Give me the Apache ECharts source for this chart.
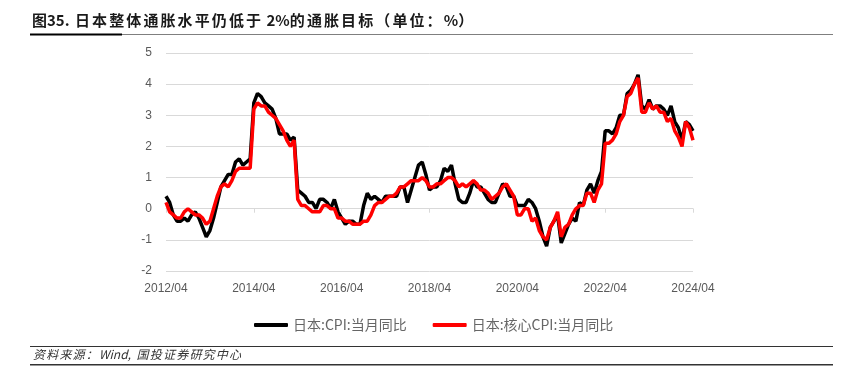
<!DOCTYPE html>
<html>
<head>
<meta charset="utf-8">
<script src="https://cdn.jsdelivr.net/npm/echarts@6/dist/echarts.min.js"></script>
<style>
html,body{margin:0;padding:0;background:#fff;}
#c{width:849px;height:385px;}
</style>
</head>
<body>
<div id="c"></div>
<script>
// Categories: monthly from 2012/04 to 2024/04
var months = [];
for (var y = 2012; y <= 2024; y++) {
  for (var m = 1; m <= 12; m++) {
    if (y === 2012 && m < 4) continue;
    if (y === 2024 && m > 4) continue;
    months.push(y + '/' + (m < 10 ? '0' + m : m));
  }
}
var seriesNames = ['日本:CPI:当月同比', '日本:核心CPI:当月同比'];
var yTicks = [-2, -1, 0, 1, 2, 3, 4, 5];
var titleText = '图35. 日本整体通胀水平仍低于 2%的通胀目标（单位：%）';
var sourceText = '资料来源：Wind, 国投证券研究中心';

// 日本:CPI:当月同比 (%)
var cpi = [
  0.4, 0.2, -0.2, -0.4, -0.4, -0.3, -0.4, -0.2, -0.1,
  -0.3, -0.6, -0.9, -0.7, -0.3, 0.2, 0.7, 0.9, 1.1, 1.1, 1.5, 1.6,
  1.4, 1.5, 1.6, 3.4, 3.7, 3.6, 3.4, 3.3, 3.2, 2.9, 2.4, 2.4,
  2.4, 2.2, 2.3, 0.6, 0.5, 0.4, 0.2, 0.2, 0.0, 0.3, 0.3, 0.2,
  0.0, 0.3, -0.1, -0.3, -0.5, -0.4, -0.4, -0.5, -0.5, 0.1, 0.5, 0.3,
  0.4, 0.3, 0.2, 0.4, 0.4, 0.4, 0.4, 0.7, 0.7, 0.2, 0.6, 1.0,
  1.4, 1.5, 1.1, 0.6, 0.7, 0.7, 0.9, 1.3, 1.2, 1.4, 0.8, 0.3,
  0.2, 0.2, 0.5, 0.9, 0.7, 0.7, 0.5, 0.3, 0.2, 0.2, 0.5, 0.8,
  0.7, 0.4, 0.4, 0.1, 0.1, 0.1, 0.3, 0.2, 0.0, -0.4, -0.9, -1.2,
  -0.6, -0.4, -0.2, -1.1, -0.8, -0.5, -0.3, -0.4, 0.2, 0.1, 0.6, 0.8,
  0.5, 0.9, 1.2, 2.5, 2.5, 2.4, 2.6, 3.0, 3.0, 3.7, 3.8, 4.0,
  4.3, 3.3, 3.2, 3.5, 3.2, 3.3, 3.3, 3.2, 3.0, 3.3, 2.8, 2.6,
  2.2, 2.8, 2.7, 2.5
];

// 日本:核心CPI:当月同比 (%)
var core = [
  0.2, -0.1, -0.2, -0.3, -0.3, -0.1, 0.0, -0.1, -0.2,
  -0.2, -0.3, -0.5, -0.4, 0.0, 0.4, 0.7, 0.8, 0.7, 0.9, 1.2, 1.3,
  1.3, 1.3, 1.3, 3.2, 3.4, 3.3, 3.3, 3.1, 3.0, 2.9, 2.7, 2.5,
  2.2, 2.0, 2.2, 0.3, 0.1, 0.1, 0.0, -0.1, -0.1, -0.1, 0.1, 0.1,
  0.0, 0.0, -0.3, -0.3, -0.4, -0.4, -0.5, -0.5, -0.5, -0.4, -0.4, -0.2,
  0.1, 0.2, 0.2, 0.3, 0.4, 0.4, 0.5, 0.7, 0.7, 0.8, 0.9, 0.9,
  0.9, 1.0, 0.9, 0.7, 0.7, 0.8, 0.8, 0.9, 1.0, 1.0, 0.9, 0.7,
  0.8, 0.7, 0.8, 0.9, 0.8, 0.6, 0.6, 0.5, 0.3, 0.4, 0.5, 0.7,
  0.8, 0.6, 0.4, -0.2, -0.2, 0.0, 0.0, -0.4, -0.3, -0.7, -0.9, -1.0,
  -0.6, -0.4, -0.1, -0.9, -0.6, -0.5, -0.2, 0.0, 0.1, 0.1, 0.5, 0.5,
  0.2, 0.6, 0.8, 2.1, 2.1, 2.2, 2.4, 2.8, 3.0, 3.6, 3.7, 4.0,
  4.2, 3.1, 3.1, 3.4, 3.2, 3.3, 3.1, 3.1, 2.8, 2.9, 2.5, 2.3,
  2.0, 2.8, 2.6, 2.2
];

var font = '"Noto Sans CJK SC", "Noto Sans", sans-serif';
var measureCtx = document.createElement('canvas').getContext('2d');

// Letter-spaced text: CJK chars placed one by one, ASCII runs kept whole
function spacedText(str, x0, yTop, fontStr, color, cjkStep, asciiGap) {
  var els = [];
  var x = x0;
  measureCtx.font = fontStr;
  var i = 0;
  while (i < str.length) {
    var ch = str[i];
    if (ch.charCodeAt(0) < 128) {
      var run = '';
      while (i < str.length && str.charCodeAt(i) < 128) { run += str[i]; i++; }
      els.push({type: 'text', left: x, top: yTop, style: {text: run, font: fontStr, fill: color}});
      x += measureCtx.measureText(run).width + asciiGap;
    } else {
      els.push({type: 'text', left: x, top: yTop, style: {text: ch, font: fontStr, fill: color}});
      x += cjkStep;
      i++;
    }
  }
  return els;
}

var titleFont = 'bold 15px "Noto Sans CJK SC", sans-serif';
var graphics = [];
graphics.push({type: 'text', left: 32, top: 13, style: {text: '图35.', font: titleFont, fill: '#1a1a1a'}});
graphics = graphics.concat(spacedText(titleText.slice(5), 75, 13, titleFont, '#1a1a1a', 17.1, 0));
graphics.push({type: 'rect', shape: {x: 30, y: 34, width: 803, height: 1}, style: {fill: '#7f7f7f'}});
graphics.push({type: 'rect', shape: {x: 30, y: 33.5, width: 92, height: 2}, style: {fill: '#000'}});
graphics.push({type: 'rect', shape: {x: 30, y: 346, width: 803, height: 1}, style: {fill: '#333'}});
graphics.push({type: 'rect', shape: {x: 30, y: 364, width: 803, height: 1.5}, style: {fill: '#333'}});
graphics = graphics.concat(spacedText(sourceText, 33, 348, 'italic 12px "Noto Sans CJK SC", sans-serif', '#333', 13.2, 3));

var chart = echarts.init(document.getElementById('c'), null, {renderer: 'canvas'});
chart.setOption({
  animation: false,
  backgroundColor: '#fff',
  textStyle: {fontFamily: font},
  grid: {left: 166, right: 156, top: 53, bottom: 114, containLabel: false},
  legend: {
    data: seriesNames,
    left: 249,
    top: 313,
    itemWidth: 34,
    itemHeight: 4,
    itemGap: 26,
    icon: 'roundRect',
    textStyle: {color: '#666666', fontSize: 14, fontFamily: font}
  },
  xAxis: [{
    type: 'category',
    data: months,
    boundaryGap: false,
    axisLine: {show: false, onZero: false},
    axisTick: {show: false},
    axisLabel: {interval: 23, color: '#595959', fontSize: 12, margin: 12, fontFamily: 'Liberation Sans, Arial, sans-serif'},
    splitLine: {show: false}
  }, {
    type: 'category',
    data: months,
    position: 'bottom',
    boundaryGap: false,
    axisLine: {show: true, onZero: true, lineStyle: {color: '#d9d9d9', width: 1}},
    axisTick: {show: true, interval: 23, length: 4, lineStyle: {color: '#d9d9d9'}},
    axisLabel: {show: false}
  }],
  yAxis: {
    type: 'value',
    min: yTicks[0],
    max: yTicks[yTicks.length - 1],
    interval: 1,
    axisLine: {show: false},
    axisTick: {show: false},
    axisLabel: {color: '#595959', fontSize: 12, margin: 14, fontFamily: 'Liberation Sans, Arial, sans-serif'},
    splitLine: {lineStyle: {color: '#d9d9d9', width: 1}}
  },
  series: [{
    name: seriesNames[0],
    type: 'line',
    data: cpi,
    showSymbol: false,
    symbol: 'none',
    itemStyle: {color: '#000000'},
    lineStyle: {color: '#000000', width: 3.5},
    z: 2
  }, {
    name: seriesNames[1],
    type: 'line',
    data: core,
    showSymbol: false,
    symbol: 'none',
    itemStyle: {color: '#ff0000'},
    lineStyle: {color: '#ff0000', width: 3.5},
    z: 3
  }],
  graphic: graphics
});
</script>
</body>
</html>
